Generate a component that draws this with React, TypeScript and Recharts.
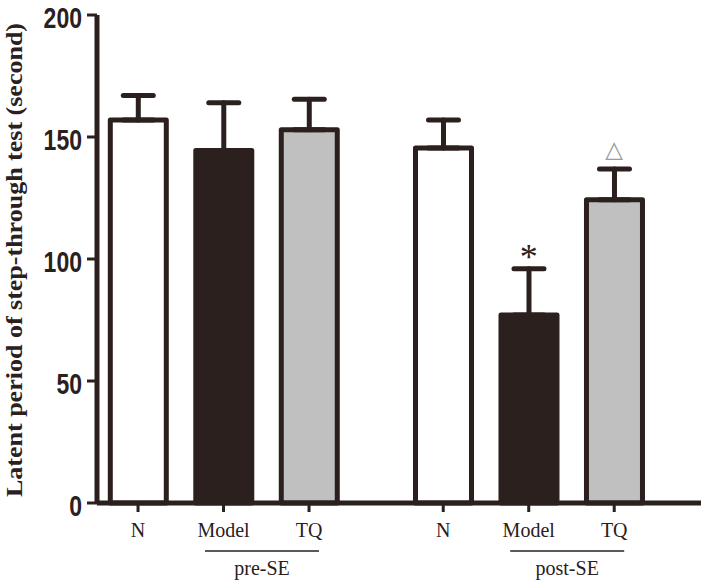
import { ComposedChart, Bar, XAxis, YAxis, ErrorBar, Scatter, Cell } from "recharts";

// values (seconds)
const groupNames = ["pre-SE", "post-SE"];
const categoryNames = ["N", "Model", "TQ"];
const preMeans = [157, 144.5, 153];
const preErrors = [10, 19.5, 12.5];
const postMeans = [145.5, 77, 124.3];
const postErrors = [11.5, 19, 12.6];
const preMarks = ["", "", ""];
const postMarks = ["", "*", "△"];
const yTicks = [0, 50, 100, 150, 200];

const INK = "#2b201e";
const fills = ["#ffffff", INK, "#c0c0c0"];
const GROUP_STRIDE = 3.57;

const groupMeans = [preMeans, postMeans];
const groupErrors = [preErrors, postErrors];
const groupMarks = [preMarks, postMarks];

const rows = groupNames.flatMap((g, gi) =>
  categoryNames.map((name, i) => ({
    x: gi * GROUP_STRIDE + i,
    name,
    group: g,
    colorIndex: i,
    value: groupMeans[gi][i],
    err: [0, groupErrors[gi][i]],
    markY: groupMeans[gi][i] + groupErrors[gi][i],
    mark: groupMarks[gi][i],
  }))
);

const groupTicks = groupNames.map((_, gi) => gi * GROUP_STRIDE + 1.45);

const CategoryTick = (props: any) => {
  const { x, y, payload } = props;
  const row = rows.find((r) => Math.abs(r.x - payload.value) < 0.01);
  return (
    <text x={x} y={y} dy="0.71em" textAnchor="middle" fontSize={20} fill={INK} fontFamily="Liberation Serif, Times New Roman, serif">
      {row ? row.name : ""}
    </text>
  );
};

const GroupTick = (props: any) => {
  const { x, y, index } = props;
  return (
    <g>
      <line x1={x - 57} x2={x + 57} y1={y + 8} y2={y + 8} stroke={INK} strokeWidth={1.5} />
      <text x={x} y={y + 32} textAnchor="middle" fontSize={20} fill={INK} fontFamily="Liberation Serif, Times New Roman, serif">
        {groupNames[index]}
      </text>
    </g>
  );
};

// condensed bold numbers like the original (no narrow font installed, so squeeze)
const YTick = (props: any) => {
  const { x, y, payload } = props;
  const label = String(payload.value);
  return (
    <text
      x={x}
      y={y}
      dy={12.5}
      textAnchor="end"
      fontSize={30}
      fontWeight="bold"
      fill={INK}
      fontFamily="Liberation Sans, Arial, sans-serif"
      textLength={label.length * 12.8}
      lengthAdjust="spacingAndGlyphs"
    >
      {label}
    </text>
  );
};

const MarkShape = (props: any) => {
  const { cx, cy, payload } = props;
  if (!payload.mark) return <g />;
  if (payload.mark === "*") {
    return (
      <text x={cx} y={cy} textAnchor="middle" fontSize={36} fill={INK} fontFamily="Liberation Serif, serif">
        *
      </text>
    );
  }
  return (
    <text x={cx} y={cy - 12} textAnchor="middle" fontSize={23} fill="#9a9a9a" fontFamily="DejaVu Sans, sans-serif">
      {payload.mark}
    </text>
  );
};

const YLabel = () => (
  <text
    x={22}
    y={260}
    transform="rotate(-90 22 260)"
    textAnchor="middle"
    fontSize={24}
    fontWeight="bold"
    fill={INK}
    fontFamily="Liberation Serif, Times New Roman, serif"
    textLength={474}
    lengthAdjust="spacingAndGlyphs"
  >
    Latent period of step-through test (second)
  </text>
);

export default function App() {
  return (
    <div style={{ position: "absolute", left: 0, top: 0, background: "#fff" }}>
      <ComposedChart width={701} height={581} data={rows} margin={{ top: 15, right: 0, left: 35, bottom: 0 }}>
        <XAxis
          dataKey="x"
          type="number"
          domain={[-0.48, 6.585]}
          ticks={rows.map((r) => r.x)}
          interval={0}
          tick={<CategoryTick />}
          tickSize={9}
          tickMargin={11}
          height={40}
          axisLine={{ stroke: INK, strokeWidth: 5 }}
          tickLine={{ stroke: INK, strokeWidth: 3 }}
          allowDataOverflow
        />
        <XAxis
          xAxisId="group"
          dataKey="x"
          type="number"
          domain={[-0.48, 6.585]}
          ticks={groupTicks}
          interval={0}
          tick={<GroupTick />}
          tickSize={0}
          tickMargin={0}
          height={38}
          axisLine={false}
          tickLine={false}
          allowDataOverflow
        />
        <YAxis
          domain={[0, 200]}
          ticks={yTicks}
          interval={0}
          width={62}
          tickSize={10}
          tickMargin={5}
          axisLine={{ stroke: INK, strokeWidth: 5 }}
          tickLine={{ stroke: INK, strokeWidth: 3 }}
          tick={<YTick />}
          label={<YLabel />}
        />
        <Bar dataKey="value" barSize={56} stroke={INK} strokeWidth={5} strokeLinejoin="round" isAnimationActive={false}>
          {rows.map((r, i) => (
            <Cell key={i} fill={fills[r.colorIndex]} />
          ))}
          <ErrorBar dataKey="err" direction="y" width={15} stroke={INK} strokeWidth={5} strokeLinecap="round" />
        </Bar>
        <Scatter dataKey="markY" shape={<MarkShape />} isAnimationActive={false} />
      </ComposedChart>
    </div>
  );
}
